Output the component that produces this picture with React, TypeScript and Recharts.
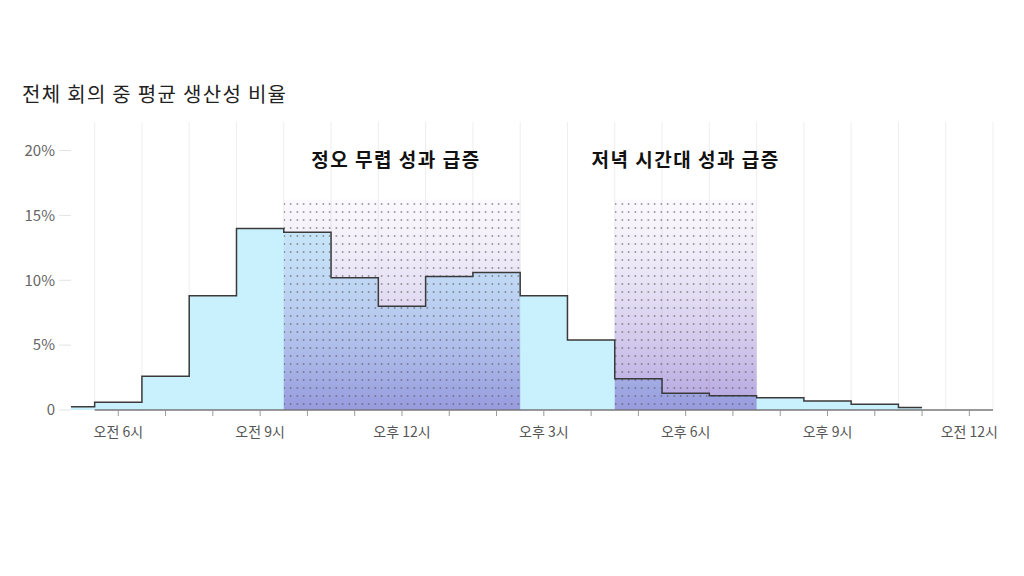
import React from "react";
import {
  ComposedChart,
  Area,
  Line,
  XAxis,
  YAxis,
  ReferenceArea,
  ReferenceLine,
} from "recharts";

// hourly share of productive meeting time (%), 5AM .. 11PM
const hours = [5, 6, 7, 8, 9, 10, 11, 12, 13, 14, 15, 16, 17, 18, 19, 20, 21, 22, 23];
const productivity = [
  0.25, 0.6, 2.6, 8.8, 14.0, 13.7, 10.2, 8.0, 10.3, 10.6, 8.8, 5.4, 2.4, 1.3, 1.1,
  0.95, 0.7, 0.44, 0.2,
];

const hourTicks = [6, 7, 8, 9, 10, 11, 12, 13, 14, 15, 16, 17, 18, 19, 20, 21, 22, 23, 24];
const labeledHours = [6, 9, 12, 15, 18, 21, 24];
const labeledText = ["오전 6시", "오전 9시", "오후 12시", "오후 3시", "오후 6시", "오후 9시", "오전 12시"];
const gridHours = [
  5.5, 6.5, 7.5, 8.5, 9.5, 10.5, 11.5, 12.5, 13.5, 14.5, 15.5, 16.5, 17.5, 18.5, 19.5,
  20.5, 21.5, 22.5, 23.5, 24.5,
];
const yTicks = [0, 5, 10, 15, 20];

const noonRange = [9.5, 14.5];
const eveningRange = [16.5, 19.5];
const highlightTop = 16.2;
const noonLabel = "정오 무렵 성과 급증";
const eveningLabel = "저녁 시간대 성과 급증";
const title = "전체 회의 중 평균 생산성 비율";

const data = hours.map((h, i) => ({ hour: h, value: productivity[i] }));

const FONT = "'Noto Sans CJK KR', 'Noto Sans', sans-serif";

const formatHour = (h: number): string => {
  const idx = labeledHours.indexOf(h);
  return idx >= 0 ? labeledText[idx] : "";
};

const labelStyle = {
  position: "top" as const,
  offset: 33,
  fill: "#111",
  fontSize: 19,
  fontWeight: 700,
  letterSpacing: 1.5,
};

export default function App() {
  return (
    <div style={{ position: "relative", width: 1008, height: 560, fontFamily: FONT }}>
      <div
        style={{
          position: "absolute",
          left: 14,
          top: 72,
          fontSize: 20,
          letterSpacing: 1.3,
          color: "#222",
          lineHeight: "28px",
        }}
      >
        {title}
      </div>
      <ComposedChart
        width={1008}
        height={470}
        data={data}
        margin={{ top: 114, right: 23, bottom: 38, left: 8 }}
        style={{ position: "absolute", left: 0, top: 0 }}
      >
        <defs>
          <pattern id="dots" width="6.5" height="8" patternUnits="userSpaceOnUse">
            <circle cx="3.25" cy="4" r="0.8" fill="#555" />
          </pattern>
          <linearGradient id="hl" x1="0" y1="0" x2="0" y2="1">
            <stop offset="0%" stopColor="rgb(200,180,230)" stopOpacity={0.08} />
            <stop offset="100%" stopColor="rgb(100,70,190)" stopOpacity={0.5} />
          </linearGradient>
        </defs>
        {gridHours.map((g) => (
          <ReferenceLine key={g} x={g} stroke="#eeeeee" strokeWidth={1} zIndex={1} />
        ))}
        <XAxis
          dataKey="hour"
          type="number"
          domain={[5, 24.5]}
          ticks={hourTicks}
          interval={0}
          tickFormatter={formatHour}
          tick={{ fill: "#555", fontSize: 14 }}
          tickLine={{ stroke: "#999" }}
          tickSize={6}
          tickMargin={11}
          axisLine={false}
          height={30}
          allowDataOverflow
        />
        <YAxis
          type="number"
          domain={[0, 22.2]}
          ticks={yTicks}
          tickFormatter={(v: number) => (v === 0 ? "0" : `${v}%`)}
          tick={{ fill: "#666", fontSize: 15 }}
          tickLine={{ stroke: "#e3e3e3" }}
          tickSize={12}
          tickMargin={4}
          axisLine={false}
          width={55}
          allowDataOverflow
        />
        <Area
          type="step"
          dataKey="value"
          stroke="none"
          fill="#c3eefd"
          fillOpacity={0.9}
          isAnimationActive={false}
          zIndex={2}
        />
        <ReferenceArea
          x1={noonRange[0]}
          x2={noonRange[1]}
          y1={0}
          y2={highlightTop}
          fill="url(#hl)"
          fillOpacity={1}
          stroke="none"
          zIndex={3}
        />
        <ReferenceArea
          x1={noonRange[0]}
          x2={noonRange[1]}
          y1={0}
          y2={highlightTop}
          fill="url(#dots)"
          fillOpacity={1}
          stroke="none"
          label={{ value: noonLabel, ...labelStyle, dx: -6 }}
          zIndex={3}
        />
        <ReferenceArea
          x1={eveningRange[0]}
          x2={eveningRange[1]}
          y1={0}
          y2={highlightTop}
          fill="url(#hl)"
          fillOpacity={1}
          stroke="none"
          zIndex={3}
        />
        <ReferenceArea
          x1={eveningRange[0]}
          x2={eveningRange[1]}
          y1={0}
          y2={highlightTop}
          fill="url(#dots)"
          fillOpacity={1}
          stroke="none"
          label={{ value: eveningLabel, ...labelStyle }}
          zIndex={3}
        />
        <Line
          type="step"
          dataKey="value"
          stroke="#3a3a3a"
          strokeWidth={1.5}
          dot={false}
          activeDot={false}
          isAnimationActive={false}
          zIndex={4}
        />
        <ReferenceLine
          segment={[
            { x: gridHours[0], y: 0 },
            { x: gridHours[gridHours.length - 1], y: 0 },
          ]}
          stroke="#777"
          strokeWidth={1.5}
          zIndex={5}
        />
      </ComposedChart>
    </div>
  );
}
